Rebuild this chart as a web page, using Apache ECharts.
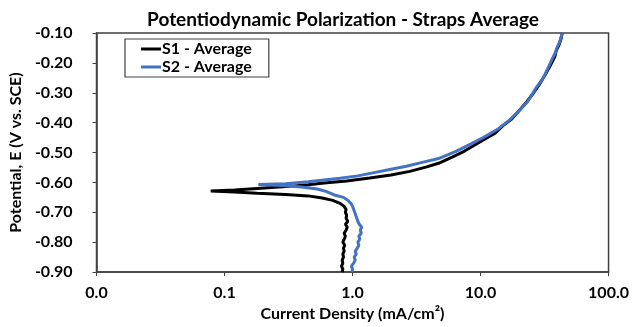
<!DOCTYPE html>
<html><head><meta charset="utf-8">
<script src="https://cdn.jsdelivr.net/npm/echarts@6/dist/echarts.min.js"></script>
<style>html,body{margin:0;padding:0;background:#fff}#c{width:632px;height:327px}</style>
</head><body><div id="c"></div>
<script>
const titleText = 'Potentiodynamic Polarization - Straps Average';
const seriesNames = ['S1 - Average', 'S2 - Average'];
const xTicks = [0.01, 0.1, 1, 10, 100];
const yTicks = [-0.9, -0.8, -0.7, -0.6, -0.5, -0.4, -0.3, -0.2, -0.1];
// [current density mA/cm2, potential V]
const s1 = [[0.83,-0.90],[0.84,-0.89],[0.82,-0.88],[0.84,-0.87],[0.83,-0.86],[0.85,-0.85],[0.84,-0.84],[0.86,-0.83],[0.85,-0.82],[0.87,-0.81],[0.84,-0.80],[0.86,-0.79],[0.88,-0.78],[0.86,-0.77],[0.89,-0.76],[0.91,-0.75],[0.88,-0.74],[0.92,-0.73],[0.89,-0.72],[0.90,-0.71],[0.88,-0.70],[0.89,-0.69],[0.86,-0.68],[0.80,-0.67],[0.70,-0.66],[0.58,-0.652],[0.45,-0.645],[0.30,-0.64],[0.18,-0.636],[0.12,-0.632],[0.078,-0.629],[0.12,-0.625],[0.18,-0.62],[0.30,-0.614],[0.45,-0.608],[0.6,-0.602],[0.9,-0.595],[1.36,-0.585],[2.0,-0.575],[2.8,-0.563],[3.8,-0.548],[4.7,-0.536],[6.0,-0.515],[7.5,-0.495],[9.0,-0.475],[10.5,-0.458],[13,-0.435],[15,-0.41],[17.3,-0.39],[20,-0.36],[23,-0.33],[26,-0.30],[29,-0.27],[32,-0.24],[35,-0.21],[38,-0.18],[39,-0.16],[41,-0.14],[42.5,-0.12],[43.5,-0.10]];
const s2 = [[0.99,-0.90],[1.00,-0.89],[0.98,-0.88],[1.02,-0.87],[1.05,-0.86],[1.03,-0.85],[1.07,-0.84],[1.05,-0.83],[1.09,-0.82],[1.12,-0.81],[1.10,-0.80],[1.14,-0.79],[1.12,-0.78],[1.17,-0.77],[1.15,-0.76],[1.18,-0.75],[1.13,-0.74],[1.10,-0.73],[1.08,-0.72],[1.06,-0.71],[1.04,-0.70],[1.02,-0.69],[1.00,-0.68],[0.97,-0.67],[0.92,-0.66],[0.85,-0.65],[0.72,-0.642],[0.62,-0.63],[0.53,-0.622],[0.40,-0.615],[0.28,-0.61],[0.184,-0.607],[0.30,-0.604],[0.45,-0.598],[0.6,-0.592],[0.8,-0.586],[1.1,-0.578],[1.44,-0.568],[2.0,-0.556],[2.63,-0.546],[3.5,-0.533],[4.7,-0.52],[6.5,-0.495],[8.5,-0.47],[10.5,-0.45],[13.7,-0.421],[17,-0.39],[20,-0.36],[23.3,-0.33],[27.5,-0.28],[31,-0.25],[33.3,-0.222],[36,-0.19],[38.4,-0.166],[39.5,-0.15],[41.5,-0.13],[43.5,-0.10]];

const FONT = 'Lato';
const axisCol = '#404040';
const chart = echarts.init(document.getElementById('c'), null, {renderer: 'canvas'});
chart.setOption({
  animation: false,
  backgroundColor: '#fff',
  title: {text: titleText, left: 338, textAlign: 'center', top: 5,
    textStyle: {fontFamily: FONT, fontWeight: 'bold', fontSize: 19, color: '#000'}},
  grid: {left: 93, right: 21, top: 33, bottom: 52, show: true, borderColor: axisCol, borderWidth: 1.5},
  legend: {
    orient: 'vertical', left: 125, top: 39,
    data: seriesNames.map(n => ({name: n, icon: 'rect'})),
    itemWidth: 20, itemHeight: 3, itemGap: 2,
    padding: [2, 17, 2, 16],
    borderColor: axisCol, borderWidth: 1.2,
    textStyle: {fontFamily: FONT, fontWeight: 'bold', fontSize: 16, color: '#000', padding: [0,0,0,-4]}
  },
  xAxis: {
    type: 'log', logBase: 10, min: xTicks[0], max: xTicks[xTicks.length-1],
    name: 'Current Density (mA/cm²)', nameLocation: 'middle', nameGap: 32,
    nameTextStyle: {fontFamily: FONT, fontWeight: 'bold', fontSize: 16, color: '#000'},
    axisLine: {lineStyle: {color: axisCol, width: 1.5}},
    axisTick: {show: true, inside: false, length: 4, lineStyle: {color: axisCol}},
    minorTick: {show: false},
    splitLine: {show: false},
    axisLabel: {fontFamily: FONT, fontWeight: 'bold', fontSize: 16, color: '#000', margin: 13,
      formatter: v => Number(v).toFixed(1)}
  },
  yAxis: {
    type: 'value', min: yTicks[0], max: yTicks[yTicks.length-1], interval: 0.1,
    name: 'Potential, E (V vs. SCE)', nameLocation: 'middle', nameGap: 66,
    nameTextStyle: {fontFamily: FONT, fontWeight: 'bold', fontSize: 16, color: '#000'},
    axisLine: {show: true, lineStyle: {color: axisCol, width: 1.5}},
    axisTick: {show: true, inside: false, length: 4, lineStyle: {color: axisCol}},
    splitLine: {show: false},
    axisLabel: {fontFamily: FONT, fontWeight: 'bold', fontSize: 16, color: '#000', margin: 24,
      formatter: v => Number(v).toFixed(2)}
  },
  series: [
    {name: seriesNames[0], type: 'line', data: s1, showSymbol: false, symbol: 'none', smooth: false,
      lineStyle: {color: '#000', width: 3}, itemStyle: {color: '#000'}},
    {name: seriesNames[1], type: 'line', data: s2, showSymbol: false, symbol: 'none', smooth: false,
      lineStyle: {color: '#4472C4', width: 3}, itemStyle: {color: '#4472C4'}}
  ]
});
</script></body></html>
